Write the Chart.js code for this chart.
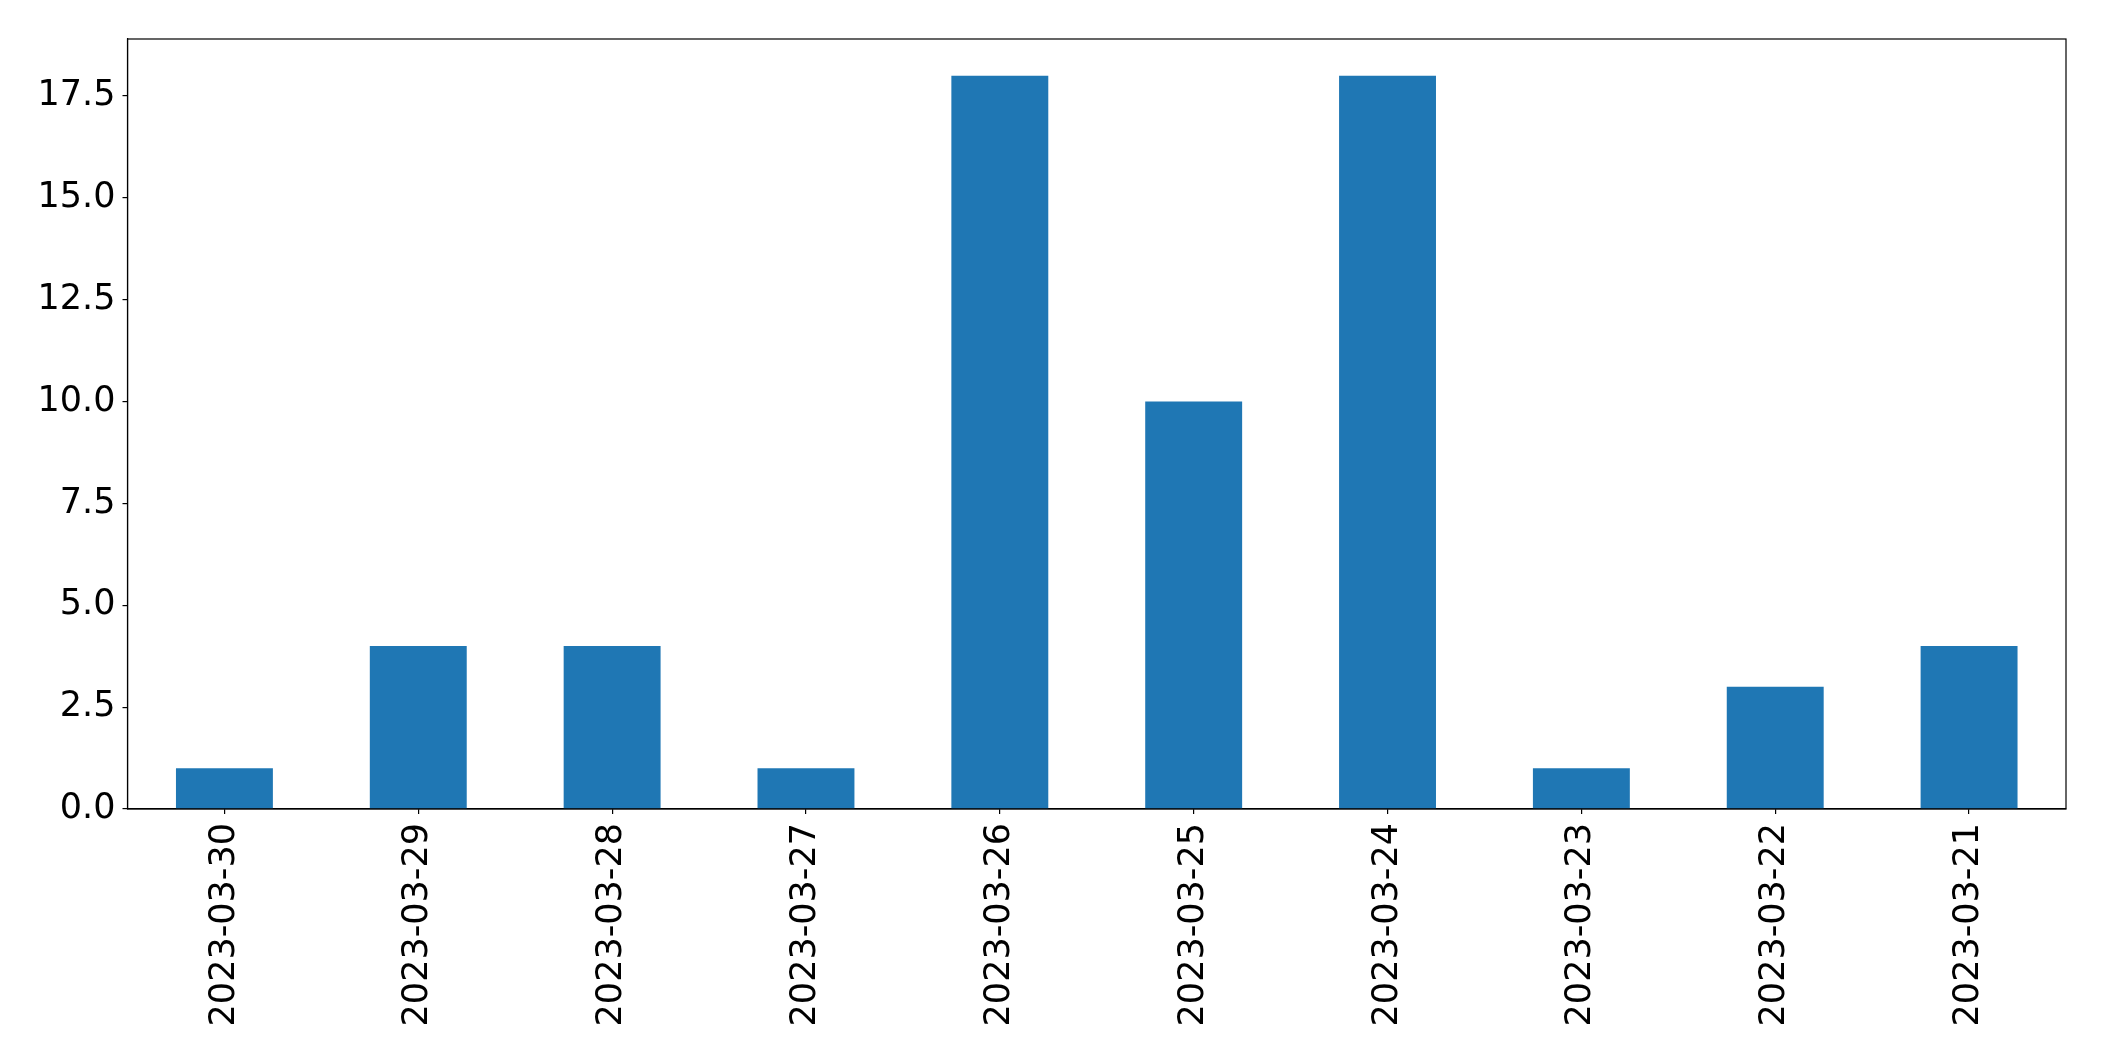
<!DOCTYPE html>
<html>
<head>
<meta charset="utf-8">
<script src="https://cdn.jsdelivr.net/npm/chart.js@4/dist/chart.umd.min.js"></script>
<style>
  body { margin: 0; background: #fff; }
  #wrap { width: 2104px; height: 1061px; }
</style>
</head>
<body>
<div id="wrap"><canvas id="graph" width="2104" height="1061"></canvas></div>
<script>
var dates = ["2023-03-30", "2023-03-29", "2023-03-28", "2023-03-27", "2023-03-26",
             "2023-03-25", "2023-03-24", "2023-03-23", "2023-03-22", "2023-03-21"];
var counts = [1, 4, 4, 1, 18, 10, 18, 1, 3, 4];
var yMax = 18.9;
var yStep = 2.5;

// draw the full box around the plot like matplotlib does
var frame = {
    id: "frame",
    afterDraw: function (chart) {
        var a = chart.chartArea;
        var c = chart.ctx;
        c.save();
        c.strokeStyle = "#000";
        c.lineWidth = 1.2;
        c.strokeRect(a.left, a.top, a.right - a.left, a.bottom - a.top);
        c.restore();
    }
};

var ctx = document.getElementById("graph").getContext("2d");
var graph = new Chart(ctx, {
    type: "bar",
    data: {
        labels: dates,
        datasets: [{
            data: counts,
            backgroundColor: "#1f77b4",
            borderWidth: 0,
            categoryPercentage: 0.5,
            barPercentage: 1.0
        }]
    },
    options: {
        responsive: false,
        animation: false,
        layout: { padding: { top: 39, right: 38, left: 0, bottom: 0 } },
        plugins: { legend: { display: false }, tooltip: { enabled: false } },
        scales: {
            x: {
                offset: true,
                grid: { display: true, offset: false, drawOnChartArea: false, drawTicks: true, tickLength: 5, color: "#000", lineWidth: 1.2 },
                border: { display: true, color: "#000", width: 1.2 },
                ticks: {
                    color: "#000",
                    font: { family: "DejaVu Sans", size: 35 },
                    minRotation: 90, maxRotation: 90,
                    autoSkip: false,
                    padding: 9
                },
                afterFit: function (s) { s.height = 252; }
            },
            y: {
                min: 0,
                max: yMax,
                grid: { display: true, drawOnChartArea: false, drawTicks: true, tickLength: 5, color: "#000", lineWidth: 1.2 },
                border: { display: true, color: "#000", width: 1.2 },
                ticks: {
                    stepSize: yStep,
                    includeBounds: false,
                    color: "#000",
                    font: { family: "DejaVu Sans", size: 35 },
                    padding: 7,
                    callback: function (v) { return v.toFixed(1); }
                },
                afterFit: function (s) { s.width = 127.5; }
            }
        }
    },
    plugins: [frame]
});
</script>
</body>
</html>
